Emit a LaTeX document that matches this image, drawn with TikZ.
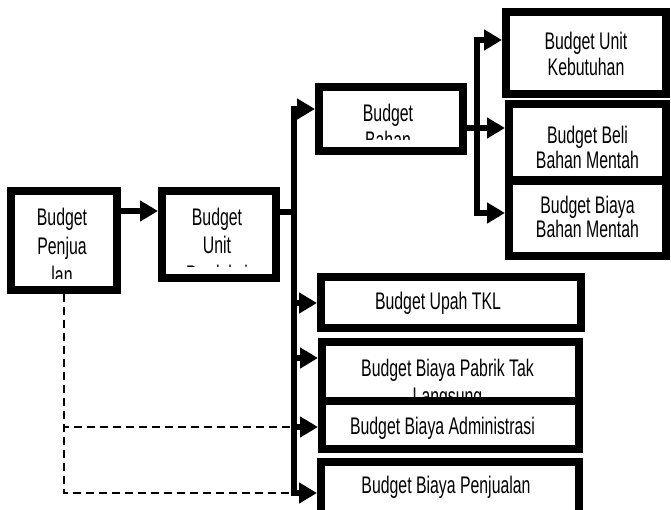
\documentclass[tikz,border=0pt]{standalone}
\usepackage{fontspec}
\setmainfont[FakeStretch=0.66]{Liberation Sans}
\usetikzlibrary{arrows.meta}

\tikzset{
  blok/.style={draw, line width=8pt, fill=white, inner sep=0pt},
  lbl/.style={draw=none, fill=none, line width=0pt, inner sep=0pt, outer sep=0pt,
    minimum width=0pt, minimum height=0pt, path picture={}, align=center, anchor=north},
  % text of a box, cut off near the lower edge as in the original
  isi/.style n args={5}{path picture={
      \clip ([shift={(11pt,11pt)}]path picture bounding box.south west)
        rectangle ([shift={(-11pt,0pt)}]path picture bounding box.north east);
      \node[lbl, font=\fontsize{24}{#3}\selectfont] (#1)
        at ([xshift=#4, yshift=#2]path picture bounding box.north) {#5};}},
  panah/.style={line width=6pt, -{Triangle[length=18pt,width=20pt]}},
  garis/.style={line width=6pt},
  putus/.style={line width=2.5pt, dash pattern=on 8pt off 5pt},
}

\begin{document}
\begin{tikzpicture}[x=1pt,y=-1pt]
  \useasboundingbox (0,0) rectangle (671,510);

  % left part
  \node[blok, minimum width=106pt, minimum height=99pt,
        isi={penj-t}{-17pt}{29pt}{-2pt}{Budget\\Penjua\\lan}] (penj) at (64,240.5) {};
  \node[blok, minimum width=114pt, minimum height=87pt,
        isi={prod-t}{-17pt}{28.5pt}{-2pt}{Budget\\Unit\\Produksi}] (prod) at (219,234.5) {};

  % bahan baku
  \node[blok, minimum width=144pt, minimum height=64pt,
        isi={bahan-t}{-17pt}{27pt}{-3pt}{Budget\\Bahan\\Baku}] (bahan) at (391,119) {};
  \node[blok, minimum width=160pt, minimum height=82pt,
        isi={keb-t}{-20pt}{26pt}{0pt}{Budget Unit\\Kebutuhan}] (keb) at (586,53) {};
  \node[blok, minimum width=157pt, minimum height=75pt,
        isi={bmen-t}{-15pt}{24pt}{0pt}{Budget Biaya\\Bahan Mentah}] (bmen) at (587.5,218.5) {};
  \node[blok, minimum width=157pt, minimum height=76pt,
        isi={beli-t}{-22pt}{25pt}{0pt}{Budget Beli\\Bahan Mentah}] (beli) at (587.5,142) {};

  % lower boxes
  \node[blok, minimum width=260pt, minimum height=51pt,
        isi={upah-t}{-15pt}{26pt}{-13pt}{Budget Upah TKL}] (upah) at (451,302.5) {};
  \node[blok, minimum width=257pt, minimum height=66pt,
        isi={bop-t}{-17pt}{28pt}{-3pt}{Budget Biaya Pabrik Tak\\Langsung}] (bop) at (450.5,375) {};
  \node[blok, minimum width=257pt, minimum height=48pt,
        isi={adm-t}{-16pt}{26pt}{-8pt}{Budget Biaya Administrasi}] (adm) at (450.5,425) {};
  \node[blok, minimum width=258pt, minimum height=56pt,
        isi={jual-t}{-14pt}{26pt}{-4pt}{Budget Biaya Penjualan}] (jual) at (450,490) {};

  \coordinate (k1) at (293.5,212);
  \coordinate (k2) at (477,128);

  % dashed lines
  \draw[putus] (penj.south) |- (k1 |- 0,427);
  \draw[putus] (penj.south) |- (k1 |- 0,493);

  % arrows
  \draw[panah] (penj.east |- 0,211) -- (prod.west |- 0,211);
  \draw[garis] (prod.east |- k1) -- (k1);
  \draw[panah] (k1) |- (bahan.west |- 0,109);
  \draw[panah] (k1) |- (jual.west |- 0,493);
  \draw[panah] (k1 |- 0,303) -- (upah.west |- 0,303);
  \draw[panah] (k1 |- 0,358) -- (bop.west |- 0,358);
  \draw[panah] (k1 |- 0,427) -- (adm.west |- 0,427);

  \draw[panah] (bahan.east |- k2) -- (beli.west |- k2);
  \draw[panah] (k2) |- (keb.west |- 0,40);
  \draw[panah] (k2) |- (bmen.west |- 0,213);
\end{tikzpicture}
\end{document}
